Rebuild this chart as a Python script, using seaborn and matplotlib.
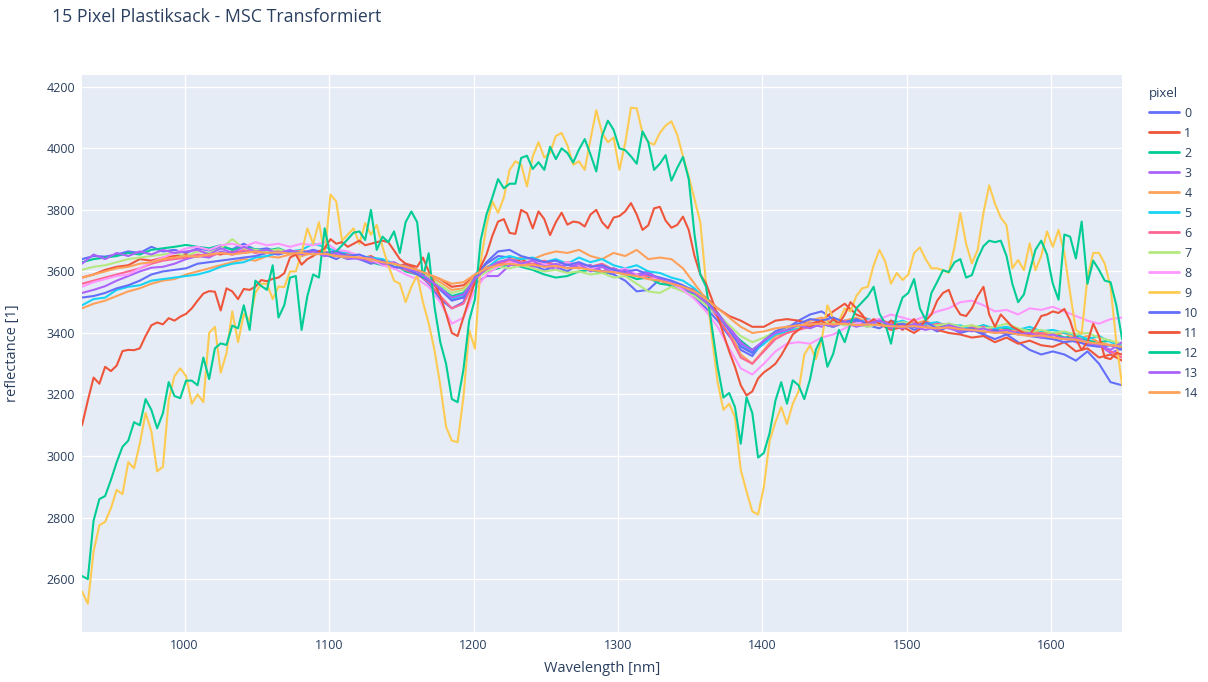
import matplotlib

matplotlib.use("Agg")
import matplotlib.pyplot as plt
import numpy as np
import pandas as pd
import seaborn as sns

# --------------------------------------------------------------------------- #
# Data
# --------------------------------------------------------------------------- #
# Coarse band grid for the tight cluster, finer grid for the three outliers.
WAVELENGTH = np.arange(929, 1650, 8)        # 91 bands
WAVELENGTH_FINE = np.arange(929, 1650, 4)   # 181 bands

PIXELS = [str(i) for i in range(15)]
FINE_PIXELS = {"9", "11", "12"}

PIXEL_0 = [
    3640, 3650, 3648, 3655, 3665, 3660, 3680, 3665, 3670, 3660,
    3675, 3668, 3680, 3672, 3690, 3670, 3675, 3662, 3665, 3650,
    3670, 3655, 3640, 3660, 3640, 3625, 3635, 3610, 3620, 3595,
    3560, 3510, 3480, 3500, 3590, 3625, 3650, 3645, 3630, 3620,
    3605, 3615, 3600, 3625, 3610, 3600, 3590, 3570, 3535, 3540,
    3575, 3550, 3540, 3515, 3480, 3440, 3390, 3345, 3325, 3375,
    3405, 3415, 3440, 3460, 3470, 3445, 3430, 3440, 3425, 3415,
    3440, 3430, 3410, 3425, 3405, 3420, 3400, 3410, 3395, 3380,
    3395, 3370, 3345, 3330, 3340, 3330, 3310, 3340, 3300, 3240,
    3230,
]
PIXEL_1 = [
    3580, 3590, 3605, 3615, 3620, 3640, 3635, 3645, 3650, 3655,
    3648, 3660, 3655, 3665, 3660, 3668, 3660, 3665, 3660, 3658,
    3665, 3660, 3650, 3660, 3640, 3650, 3630, 3610, 3625, 3605,
    3590, 3575, 3550, 3555, 3585, 3610, 3630, 3625, 3640, 3620,
    3630, 3615, 3625, 3610, 3620, 3600, 3610, 3595, 3585, 3580,
    3570, 3560, 3550, 3540, 3515, 3480, 3455, 3440, 3420, 3420,
    3440, 3445, 3440, 3430, 3440, 3470, 3495, 3460, 3445, 3430,
    3410, 3420, 3400, 3425, 3410, 3400, 3395, 3385, 3390, 3370,
    3385, 3365, 3375, 3360, 3355, 3370, 3340, 3350, 3320, 3330,
    3310,
]
PIXEL_2 = [
    3630, 3640, 3645, 3650, 3660, 3655, 3670, 3675, 3680, 3686,
    3680, 3675, 3685, 3670, 3680, 3672, 3668, 3675, 3660, 3665,
    3655, 3660, 3655, 3640, 3650, 3630, 3620, 3625, 3600, 3590,
    3575, 3545, 3520, 3530, 3580, 3600, 3610, 3625, 3615, 3605,
    3590, 3580, 3585, 3600, 3605, 3595, 3600, 3590, 3575, 3580,
    3560, 3555, 3540, 3525, 3495, 3455, 3410, 3375, 3345, 3370,
    3400, 3410, 3420, 3425, 3430, 3420, 3435, 3425, 3440, 3430,
    3425, 3430, 3420, 3435, 3425, 3430, 3420, 3415, 3425, 3410,
    3415, 3405, 3410, 3395, 3400, 3385, 3390, 3375, 3370, 3375,
    3350,
]
PIXEL_3 = [
    3530, 3540, 3552, 3570, 3585, 3600, 3612, 3615, 3625, 3640,
    3650, 3645, 3665, 3655, 3665, 3670, 3660, 3668, 3660, 3655,
    3665, 3650, 3655, 3640, 3645, 3630, 3625, 3610, 3620, 3600,
    3580, 3550, 3510, 3515, 3560, 3585, 3585, 3620, 3625, 3615,
    3620, 3605, 3625, 3615, 3620, 3600, 3610, 3595, 3590, 3600,
    3570, 3565, 3545, 3530, 3500, 3465, 3420, 3370, 3340, 3365,
    3400, 3415, 3425, 3430, 3420, 3440, 3425, 3430, 3420, 3435,
    3415, 3430, 3420, 3410, 3420, 3415, 3405, 3420, 3400, 3410,
    3395, 3405, 3390, 3395, 3380, 3385, 3370, 3365, 3360, 3335,
    3350,
]
PIXEL_4 = [
    3480, 3495, 3505, 3520, 3535, 3545, 3560, 3570, 3575, 3590,
    3600, 3610, 3620, 3630, 3640, 3635, 3650, 3645, 3655, 3650,
    3660, 3655, 3650, 3645, 3650, 3635, 3630, 3620, 3615, 3600,
    3585, 3565, 3540, 3545, 3585, 3615, 3630, 3640, 3645, 3640,
    3655, 3665, 3660, 3670, 3650, 3640, 3660, 3650, 3670, 3640,
    3645, 3640, 3610, 3560, 3510, 3465, 3410, 3330, 3300, 3345,
    3390, 3400, 3415, 3440, 3450, 3430, 3440, 3450, 3435, 3440,
    3425, 3435, 3430, 3440, 3420, 3430, 3415, 3425, 3410, 3420,
    3405, 3410, 3400, 3405, 3395, 3400, 3380, 3390, 3370, 3360,
    3365,
]
PIXEL_5 = [
    3490, 3510, 3515, 3540, 3550, 3555, 3570, 3575, 3580, 3585,
    3590, 3600, 3615, 3625, 3630, 3645, 3650, 3660, 3665, 3670,
    3690, 3680, 3665, 3660, 3650, 3645, 3640, 3625, 3615, 3600,
    3580, 3550, 3510, 3520, 3575, 3610, 3640, 3650, 3640, 3645,
    3630, 3640, 3625, 3645, 3630, 3640, 3620, 3610, 3620, 3600,
    3595, 3580, 3570, 3545, 3505, 3460, 3410, 3360, 3335, 3365,
    3395, 3405, 3415, 3420, 3430, 3420, 3440, 3430, 3445, 3435,
    3430, 3440, 3425, 3430, 3435, 3420, 3425, 3410, 3425, 3415,
    3420, 3410, 3420, 3405, 3410, 3400, 3395, 3380, 3390, 3370,
    3360,
]
PIXEL_6 = [
    3560, 3570, 3580, 3590, 3600, 3610, 3625, 3635, 3640, 3645,
    3655, 3650, 3660, 3655, 3670, 3660, 3665, 3670, 3662, 3668,
    3660, 3665, 3650, 3655, 3640, 3640, 3625, 3620, 3605, 3590,
    3565, 3520, 3480, 3495, 3570, 3605, 3625, 3635, 3630, 3625,
    3635, 3620, 3630, 3620, 3615, 3625, 3605, 3600, 3590, 3585,
    3575, 3560, 3550, 3535, 3500, 3450, 3395, 3320, 3300, 3340,
    3380, 3400, 3410, 3420, 3430, 3425, 3440, 3430, 3435, 3445,
    3430, 3425, 3435, 3420, 3430, 3425, 3410, 3415, 3420, 3405,
    3410, 3400, 3395, 3400, 3385, 3380, 3375, 3360, 3365, 3340,
    3320,
]
PIXEL_7 = [
    3605, 3615, 3620, 3630, 3640, 3645, 3650, 3655, 3660, 3650,
    3665, 3660, 3675, 3705, 3675, 3670, 3665, 3672, 3660, 3665,
    3660, 3655, 3660, 3645, 3650, 3640, 3630, 3620, 3615, 3600,
    3580, 3555, 3530, 3540, 3575, 3600, 3615, 3610, 3620, 3610,
    3600, 3605, 3595, 3600, 3590, 3595, 3580, 3585, 3560, 3535,
    3530, 3550, 3535, 3520, 3490, 3460, 3425, 3390, 3370, 3385,
    3405, 3415, 3420, 3425, 3430, 3435, 3425, 3430, 3420, 3430,
    3425, 3435, 3430, 3420, 3425, 3430, 3420, 3425, 3415, 3420,
    3430, 3415, 3405, 3410, 3400, 3405, 3395, 3400, 3385, 3375,
    3365,
]
PIXEL_8 = [
    3550, 3565, 3575, 3585, 3590, 3610, 3630, 3645, 3660, 3675,
    3680, 3670, 3685, 3690, 3680, 3695, 3685, 3690, 3680, 3690,
    3685, 3695, 3670, 3665, 3650, 3640, 3620, 3610, 3590, 3575,
    3550, 3500, 3430, 3450, 3540, 3590, 3615, 3630, 3620, 3640,
    3625, 3615, 3630, 3620, 3610, 3615, 3600, 3610, 3590, 3575,
    3580, 3560, 3540, 3510, 3470, 3420, 3350, 3285, 3265, 3300,
    3340, 3365, 3370, 3365, 3385, 3395, 3415, 3430, 3440, 3445,
    3460, 3450, 3440, 3455, 3470, 3480, 3500, 3505, 3490, 3470,
    3475, 3460, 3480, 3475, 3485, 3470, 3455, 3440, 3430, 3445,
    3450,
]
PIXEL_9 = [
    2560, 2520, 2690, 2775, 2786, 2830, 2890, 2876, 2980, 2960,
    3040, 3140, 3080, 2950, 2965, 3182, 3260, 3285, 3260, 3170,
    3200, 3175, 3400, 3420, 3271, 3334, 3470, 3370, 3462, 3440,
    3530, 3560, 3560, 3510, 3551, 3549, 3600, 3600, 3660, 3740,
    3690, 3760, 3650, 3850, 3827, 3700, 3720, 3740, 3690, 3757,
    3719, 3751, 3680, 3620, 3570, 3560, 3500, 3550, 3588, 3500,
    3431, 3344, 3230, 3095, 3050, 3045, 3190, 3409, 3349, 3630,
    3750, 3828, 3790, 3840, 3930, 3958, 3947, 3876, 3974, 4020,
    3970, 3985, 4040, 4050, 4010, 3947, 3958, 3930, 4030, 4124,
    4050, 4020, 4035, 3930, 4017, 4132, 4130, 4050, 4020, 4012,
    4050, 4074, 4088, 4045, 3974, 3909, 3835, 3760, 3560, 3387,
    3240, 3150, 3170, 3126, 2955, 2885, 2820, 2810, 2900, 3050,
    3110, 3159, 3104, 3170, 3210, 3330, 3360, 3315, 3376, 3490,
    3447, 3440, 3480, 3470, 3520, 3545, 3550, 3620, 3670, 3632,
    3560, 3595, 3572, 3590, 3660, 3678, 3640, 3610, 3610, 3604,
    3595, 3680, 3790, 3690, 3626, 3670, 3790, 3880, 3820, 3775,
    3750, 3610, 3637, 3604, 3691, 3604, 3650, 3730, 3680, 3735,
    3660, 3530, 3409, 3398, 3580, 3660, 3660, 3625, 3550, 3370,
    3230,
]
PIXEL_10 = [
    3515, 3520, 3530, 3545, 3555, 3570, 3590, 3600, 3605, 3610,
    3625, 3630, 3635, 3640, 3645, 3650, 3660, 3655, 3665, 3660,
    3670, 3660, 3665, 3650, 3655, 3640, 3635, 3615, 3610, 3590,
    3570, 3540, 3505, 3515, 3580, 3630, 3665, 3670, 3650, 3640,
    3630, 3635, 3620, 3630, 3615, 3620, 3605, 3600, 3605, 3590,
    3580, 3570, 3555, 3535, 3505, 3465, 3410, 3355, 3335, 3375,
    3405, 3420, 3430, 3445, 3440, 3450, 3435, 3445, 3430, 3440,
    3425, 3430, 3420, 3435, 3415, 3425, 3410, 3415, 3400, 3410,
    3395, 3400, 3390, 3385, 3380, 3370, 3375, 3360, 3355, 3360,
    3345,
]
PIXEL_11 = [
    3100, 3180, 3255, 3235, 3290, 3276, 3294, 3341, 3345, 3344,
    3350, 3390, 3425, 3434, 3428, 3448, 3440, 3453, 3462, 3480,
    3505, 3528, 3536, 3534, 3473, 3545, 3535, 3510, 3543, 3540,
    3550, 3572, 3568, 3576, 3580, 3594, 3645, 3655, 3622, 3640,
    3650, 3665, 3675, 3705, 3690, 3695, 3680, 3690, 3700, 3685,
    3690, 3695, 3700, 3695, 3668, 3640, 3625, 3620, 3615, 3645,
    3600, 3560, 3520, 3463, 3400, 3390, 3450, 3510, 3565, 3615,
    3655, 3715, 3762, 3770, 3725, 3722, 3800, 3789, 3740, 3795,
    3770, 3718, 3760, 3791, 3752, 3762, 3759, 3746, 3785, 3800,
    3760, 3740, 3775, 3780, 3795, 3822, 3785, 3735, 3750, 3805,
    3810, 3765, 3742, 3751, 3778, 3735, 3650, 3590, 3560, 3510,
    3455, 3398, 3340, 3290, 3230, 3197, 3210, 3252, 3272, 3285,
    3300, 3327, 3360, 3395, 3410, 3425, 3420, 3430, 3440, 3425,
    3445, 3430, 3460, 3500, 3480, 3460, 3430, 3445, 3430, 3420,
    3440, 3425, 3410, 3430, 3445, 3420, 3440, 3460, 3505, 3530,
    3540, 3490, 3460, 3455, 3480, 3520, 3550, 3460, 3420, 3460,
    3440, 3420, 3410, 3400, 3395, 3420, 3455, 3460, 3470, 3465,
    3478, 3440, 3380, 3345, 3370, 3430, 3390, 3320, 3315, 3335,
    3330,
]
PIXEL_12 = [
    2610, 2600, 2790, 2860, 2870, 2922, 2980, 3030, 3050, 3110,
    3100, 3185, 3150, 3090, 3139, 3240, 3195, 3188, 3245, 3245,
    3230, 3320, 3250, 3350, 3366, 3361, 3424, 3415, 3490, 3410,
    3570, 3553, 3540, 3620, 3450, 3490, 3580, 3585, 3410, 3520,
    3590, 3580, 3740, 3650, 3665, 3685, 3705, 3726, 3730, 3702,
    3800, 3670, 3713, 3695, 3730, 3660, 3760, 3795, 3760, 3580,
    3659, 3485, 3370, 3300, 3185, 3175, 3280, 3440, 3510, 3702,
    3785, 3840, 3900, 3870, 3885, 3885, 3969, 3976, 3933, 3955,
    3930, 4005, 3965, 4000, 3985, 3954, 3996, 4030, 3980, 3925,
    4040, 4090, 4060, 4000, 3994, 3974, 3950, 4055, 4020, 3930,
    3950, 3978, 3895, 3936, 3972, 3900, 3720, 3590, 3550, 3420,
    3290, 3190, 3205, 3159, 3040, 3191, 3140, 2995, 3010, 3075,
    3180, 3240, 3170, 3246, 3230, 3185, 3250, 3345, 3385, 3290,
    3332, 3410, 3370, 3430, 3480, 3500, 3520, 3550, 3463, 3430,
    3365, 3460, 3515, 3530, 3575, 3480, 3442, 3530, 3566, 3604,
    3598, 3630, 3640, 3580, 3588, 3642, 3682, 3700, 3695, 3700,
    3650, 3560, 3500, 3525, 3600, 3670, 3700, 3655, 3560, 3508,
    3720, 3713, 3642, 3762, 3560, 3635, 3605, 3570, 3565, 3490,
    3380,
]
PIXEL_13 = [
    3625, 3655, 3640, 3660, 3650, 3665, 3655, 3670, 3660, 3665,
    3670, 3655, 3675, 3660, 3680, 3665, 3670, 3660, 3670, 3655,
    3665, 3650, 3660, 3645, 3640, 3645, 3625, 3630, 3610, 3600,
    3575, 3545, 3515, 3525, 3575, 3610, 3630, 3640, 3625, 3635,
    3615, 3625, 3610, 3625, 3600, 3615, 3595, 3605, 3585, 3595,
    3575, 3560, 3550, 3530, 3500, 3460, 3415, 3365, 3345, 3375,
    3400, 3410, 3425, 3415, 3430, 3420, 3435, 3420, 3430, 3440,
    3425, 3415, 3430, 3420, 3410, 3425, 3415, 3405, 3415, 3400,
    3410, 3395, 3400, 3385, 3395, 3380, 3385, 3370, 3360, 3345,
    3370,
]
PIXEL_14 = [
    3580, 3590, 3600, 3610, 3615, 3625, 3630, 3640, 3645, 3650,
    3648, 3655, 3660, 3655, 3660, 3665, 3660, 3662, 3658, 3660,
    3655, 3658, 3650, 3648, 3645, 3640, 3630, 3625, 3615, 3605,
    3590, 3575, 3560, 3565, 3590, 3610, 3620, 3625, 3620, 3622,
    3615, 3618, 3610, 3612, 3605, 3600, 3598, 3590, 3585, 3575,
    3570, 3560, 3550, 3535, 3510, 3480, 3450, 3420, 3400, 3405,
    3415, 3420, 3425, 3428, 3430, 3428, 3430, 3425, 3428, 3425,
    3422, 3420, 3422, 3418, 3415, 3418, 3412, 3410, 3405, 3400,
    3402, 3395, 3390, 3392, 3385, 3380, 3378, 3370, 3365, 3360,
    3355,
]

SERIES = [
    PIXEL_0, PIXEL_1, PIXEL_2, PIXEL_3, PIXEL_4, PIXEL_5, PIXEL_6, PIXEL_7,
    PIXEL_8, PIXEL_9, PIXEL_10, PIXEL_11, PIXEL_12, PIXEL_13, PIXEL_14,
]

# plotly default qualitative palette, cycling after 10 colours
PLOTLY_COLORS = ["#636EFA", "#EF553B", "#00CC96", "#AB63FA", "#FFA15A",
                 "#19D3F3", "#FF6692", "#B6E880", "#FF97FF", "#FECB52"]
PALETTE = {p: PLOTLY_COLORS[i % 10] for i, p in enumerate(PIXELS)}

TEXT_COLOR = "#2a3f5f"


def build_frame() -> pd.DataFrame:
    frames = []
    for name, values in zip(PIXELS, SERIES):
        x = WAVELENGTH_FINE if name in FINE_PIXELS else WAVELENGTH
        assert len(x) == len(values), (name, len(values))
        frames.append(pd.DataFrame({"wavelength": x, "reflectance": values,
                                    "pixel": name}))
    return pd.concat(frames, ignore_index=True)


def main():
    df = build_frame()

    sns.set_theme(style="darkgrid")
    plt.rcParams["font.family"] = ["Open Sans", "DejaVu Sans"]

    fig = plt.figure(figsize=(12.08, 6.82), dpi=100)
    fig.patch.set_facecolor("white")
    ax = fig.add_axes([0.0679, 0.0733, 0.861, 0.817])
    ax.set_facecolor("#E5ECF6")

    sns.lineplot(data=df, x="wavelength", y="reflectance", hue="pixel",
                 hue_order=PIXELS, palette=PALETTE, estimator=None, sort=False,
                 linewidth=1.5, ax=ax)

    ax.set_xlim(929, 1649)
    ax.set_ylim(2428, 4239)
    ax.set_xticks(range(1000, 1601, 100))
    ax.set_yticks(range(2600, 4201, 200))
    ax.grid(True, color="white", linewidth=1.0)
    ax.set_axisbelow(True)
    for spine in ax.spines.values():
        spine.set_visible(False)
    ax.tick_params(length=0, labelsize=9, colors=TEXT_COLOR, pad=5)

    ax.set_xlabel("Wavelength [nm]", fontsize=10.5, color=TEXT_COLOR)
    ax.set_ylabel("reflectance [1]", fontsize=10.5, color=TEXT_COLOR)
    ax.xaxis.set_label_coords(0.5, -0.052)
    ax.yaxis.set_label_coords(-0.06, 0.5)

    fig.text(52 / 1208, 1 - 17 / 682, "15 Pixel Plastiksack - MSC Transformiert",
             ha="left", va="center", fontsize=12.75, color=TEXT_COLOR)

    handles, labels = ax.get_legend_handles_labels()
    leg = ax.legend(handles, labels, title="pixel", loc="upper left",
                    bbox_to_anchor=(1140 / 1208, 1 - 78 / 682),
                    bbox_transform=fig.transFigure, frameon=False,
                    fontsize=9, title_fontsize=9.5, handlelength=2.4,
                    handletextpad=0.45, labelspacing=0.56, borderpad=0.2)
    leg._legend_box.align = "left"
    for text in leg.get_texts():
        text.set_color(TEXT_COLOR)
    leg.get_title().set_color(TEXT_COLOR)
    for line in leg.get_lines():
        line.set_linewidth(2.0)

    fig.savefig("out.png", dpi=100)
    plt.close(fig)


if __name__ == "__main__":
    main()
